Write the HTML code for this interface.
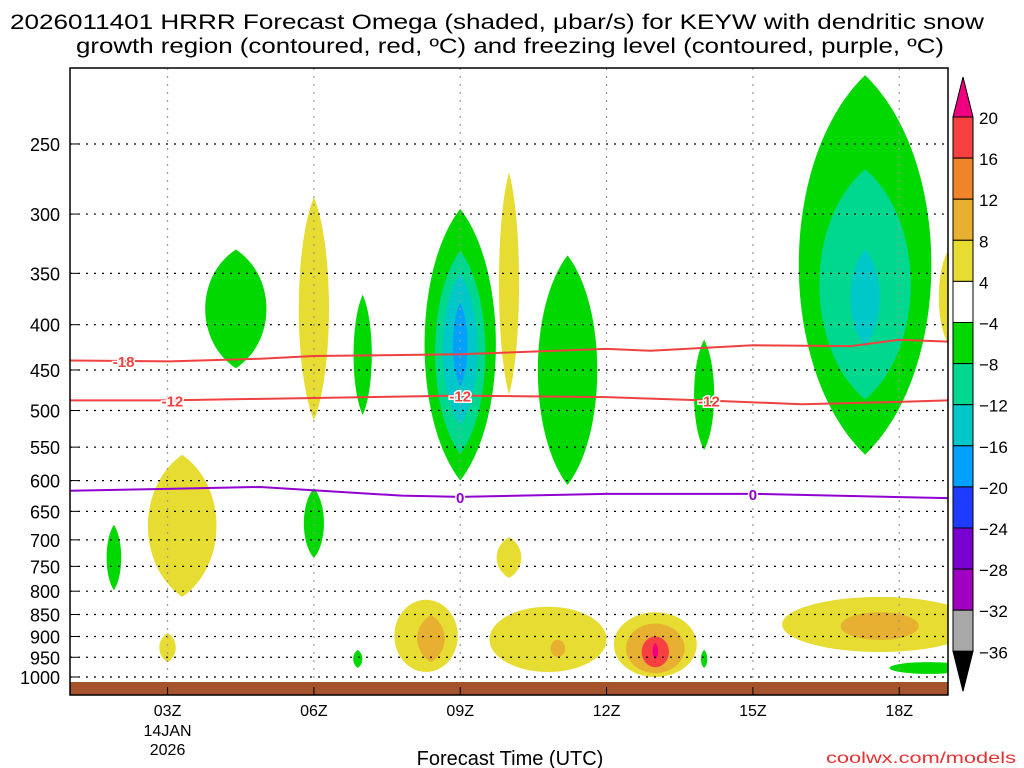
<!DOCTYPE html>
<html><head><meta charset="utf-8"><style>
html,body{margin:0;padding:0;background:#fff;}
svg{display:block;font-family:"Liberation Sans",sans-serif;}
</style></head><body>
<svg id="chart" width="1024" height="768" viewBox="0 0 1024 768">
<text x="497" y="29" text-anchor="middle" font-size="21" textLength="974" lengthAdjust="spacingAndGlyphs">2026011401 HRRR Forecast Omega (shaded, μbar/s) for KEYW with dendritic snow</text>
<text x="510" y="53" text-anchor="middle" font-size="21" textLength="868" lengthAdjust="spacingAndGlyphs">growth region (contoured, red, ºC) and freezing level (contoured, purple, ºC)</text>
<g id="plot"></g>
<g id="cbar"></g>
<text x="510" y="765" text-anchor="middle" font-size="20">Forecast Time (UTC)</text>
<text x="1016" y="763" text-anchor="end" font-size="16" fill="#e83030" textLength="190" lengthAdjust="spacingAndGlyphs">coolwx.com/models</text>
</svg>
<script>
const pressureTicks=[250,300,350,400,450,500,550,600,650,700,750,800,850,900,950,1000];
const hourTicks=[3,6,9,12,15,18];
const hourLabels=["03Z","06Z","09Z","12Z","15Z","18Z"];
const cbLevels=[20,16,12,8,4,-4,-8,-12,-16,-20,-24,-28,-32,-36];
const cbColors=["#f84040","#f08428","#e8b030","#e6dc32","#ffffff","#00d800","#00d890","#00c8c8","#00a0ff","#1e3cff","#7800d0","#a000c0","#a8a8a8"];
// blobs: center hour, top pressure, bottom pressure, half width (hours), color index
const blobHour=[4.4,6.0,7.0,9.0,9.0,9.0,9.0,10.0,11.2,14.0,17.3,17.3,17.3,3.3,1.9,6.0,10.0,3.0,6.9,8.3,8.4,10.8,11.0,13.0,13.0,13.0,13.0,14.0,17.6,17.6,18.6,19.0];
const blobTop=[329,287,370,296,330,350,378,269,334,416,209,267,329,561,673,612,695,892,932,818,851,833,908,845,870,900,915,932,812,845,962,330];
const blobBot=[448,513,506,600,560,520,470,480,607,554,561,486,422,812,798,734,773,962,977,987,962,987,949,1000,990,975,955,977,937,908,992,420];
const blobHalf=[0.67,0.33,0.2,0.78,0.55,0.38,0.16,0.22,0.65,0.22,1.45,1.0,0.32,0.75,0.16,0.22,0.27,0.18,0.1,0.65,0.3,1.2,0.15,0.85,0.6,0.28,0.06,0.07,2.0,0.8,0.8,0.2];
const blobColor=[5,3,5,5,6,7,8,3,5,5,5,6,7,3,5,5,3,3,5,3,2,3,2,3,2,0,-1,5,3,2,5,3];
// contour lines
const m18Hours=[1,3.05,4.9,6,9,12,12.9,15,17,18,19];
const m18Press=[439,440,437,434,432,426,428,422,423,416,418];
const m12Hours=[1,3,6,9,12,14,16,18,19];
const m12Press=[487,487,484,481,483,487,492,489,487];
const zeroHours=[1,3,4.9,7.8,9,12,15,19];
const zeroPress=[616,613,610,624,626,621,621,628];

const NS="http://www.w3.org/2000/svg";
const X0=70,X1=948,H0=1,H1=19;
const xs=h=>X0+(h-H0)/(H1-H0)*(X1-X0);
const ys=p=>677-Math.log(1000/p)*384.5;
const plot=document.getElementById('plot');
function mk(tag,attrs,parent){const e=document.createElementNS(NS,tag);for(const k in attrs)e.setAttribute(k,attrs[k]);(parent||plot).appendChild(e);return e;}

const clip=mk('clipPath',{id:'pc'});mk('rect',{x:X0,y:68,width:X1-X0,height:627},clip);
const g=mk('g',{'clip-path':'url(#pc)'});


for(let i=0;i<blobHour.length;i++){
  const cx=xs(blobHour[i]),y1=ys(blobTop[i]),y2=ys(blobBot[i]);
  const rx=blobHalf[i]*(X1-X0)/(H1-H0);
  const fill=blobColor[i]<0?'#f00080':cbColors[blobColor[i]];
  let e;
  if((y2-y1)>2.5*rx){
    const cy=(y1+y2)/2,ry=(y2-y1)/2;
    const k=1.25*rx;
    const d=`M${cx},${y1} C${cx+k},${y1+ry*0.45} ${cx+k},${y2-ry*0.45} ${cx},${y2} C${cx-k},${y2-ry*0.45} ${cx-k},${y1+ry*0.45} ${cx},${y1}Z`;
    e=mk('path',{d:d,fill:fill},g);
  } else {
    e=mk('ellipse',{cx:cx,cy:(y1+y2)/2,rx:rx,ry:(y2-y1)/2,fill:fill},g);
  }
  
  
}
const gr=mk('rect',{x:X0,y:682,width:X1-X0,height:13,fill:'#a5532c'});


pressureTicks.forEach((p,i)=>{
  const y=ys(p);
  const l=mk('line',{x1:X0,x2:X1,y1:y,y2:y,stroke:'#000','stroke-dasharray':'2 6','stroke-width':1.2});
  
  
  const t=mk('text',{x:60,y:y+7,'text-anchor':'end','font-size':18});
  t.textContent=p;
  
  
  mk('line',{x1:X0,x2:X0+8,y1:y,y2:y,stroke:'#000'});
});
hourTicks.forEach((h,i)=>{
  const x=xs(h);
  const l=mk('line',{x1:x,x2:x,y1:68,y2:682,stroke:'#999','stroke-dasharray':'2 6','stroke-width':1.2});
  
  
  mk('line',{x1:x,x2:x,y1:695,y2:687,stroke:'#000'});
  const t=mk('text',{x:x,y:716,'text-anchor':'middle','font-size':16});
  t.textContent=hourLabels[i];
  
  
});
const d1=mk('text',{x:xs(3),y:736,'text-anchor':'middle','font-size':16});d1.textContent='14JAN';


const d2=mk('text',{x:xs(3),y:755,'text-anchor':'middle','font-size':16});d2.textContent='2026';


function line(hs,ps,color,name,labels,txt){
  const pts=hs.map((h,i)=>xs(h)+','+ys(ps[i])).join(' ');
  const pl=mk('polyline',{points:pts,fill:'none',stroke:color,'stroke-width':2});
  
  
  labels.forEach(h=>{
    let k=0;while(k<hs.length-2&&hs[k+1]<h)k++;
    const f=(h-hs[k])/(hs[k+1]-hs[k]);const p=ps[k]+f*(ps[k+1]-ps[k]);
    const t=mk('text',{x:xs(h),y:ys(p)+6,'text-anchor':'middle','font-size':15,'font-weight':'bold',fill:color,stroke:'#fff','stroke-width':3,'paint-order':'stroke'});
    t.textContent=txt;
    
    
  });
}
line(m18Hours,m18Press,'#f04040','contour-minus18',[2.1],'-18');
line(m12Hours,m12Press,'#f04040','contour-minus12',[3.1,9,14.1],'-12');
line(zeroHours,zeroPress,'#9000d0','freezing-level',[9,15],'0');
const fr=mk('rect',{x:X0,y:68,width:X1-X0,height:627,fill:'none',stroke:'#000','stroke-width':1.5});


const cb=document.getElementById('cbar');
const CB0=117,CBS=41.1,CX=953,CW=20;
cbColors.forEach((c,i)=>{
  const r=mk('rect',{x:CX,y:CB0+i*CBS,width:CW,height:CBS,fill:c,stroke:'#000','stroke-width':1},cb);
  
  
});
cbLevels.forEach((v,i)=>{
  const t=mk('text',{x:979,y:CB0+i*CBS+7,'font-size':17},cb);
  t.textContent=v<0?'\u2212'+(-v):v;
  
  
});
const tu=mk('polygon',{points:`${CX},${CB0} ${CX+CW},${CB0} ${CX+CW/2},${CB0-40}`,fill:'#f00080',stroke:'#000'},cb);


const yb=CB0+13*CBS;
const td=mk('polygon',{points:`${CX},${yb} ${CX+CW},${yb} ${CX+CW/2},${yb+40}`,fill:'#000',stroke:'#000'},cb);


</script>
</body></html>
